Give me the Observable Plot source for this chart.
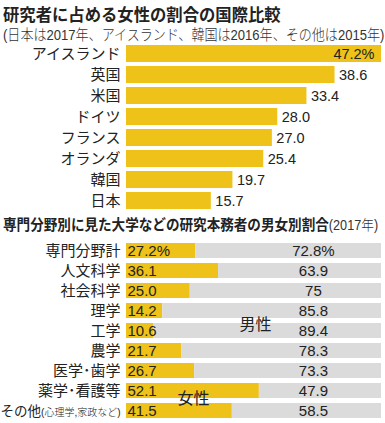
<!DOCTYPE html>
<html lang="ja"><head><meta charset="utf-8">
<script src="https://cdn.jsdelivr.net/npm/d3@7"></script>
<script src="https://cdn.jsdelivr.net/npm/@observablehq/plot@0.6"></script>
<style>
body{margin:0;background:#fff;font-family:"Liberation Sans","Noto Sans CJK JP",sans-serif;color:#222;}
#root{width:385px;height:423px;position:relative;overflow:hidden;background:#fff}
.t{position:absolute;white-space:nowrap;transform-origin:0 0;line-height:1}
#c1,#c2{position:absolute;left:0}
svg text{font-family:"Liberation Sans","Noto Sans CJK JP",sans-serif}
</style></head><body><div id="root">
<div class="t" style="left:3px;top:7px;font-size:16.5px;font-weight:bold;transform:scaleX(0.99)">研究者に占める女性の割合の国際比較</div>
<div class="t" style="left:3px;top:28px;font-size:14.5px;font-weight:300;color:#333;transform:scaleX(0.9)">(日本は2017年、アイスランド、韓国は2016年、その他は2015年)</div>
<div id="c1" style="top:43px"></div>
<div class="t" style="left:3px;top:217px;font-size:15px;transform:scaleX(0.905)"><span style="font-weight:bold">専門分野別に見た大学などの研究本務者の男女別割合</span><span style="font-size:14px;font-weight:300;color:#333">(2017年)</span></div>
<div id="c2" style="top:239px"></div>
</div>
<script>
// Chart 1: share of women among researchers, by country
const countries = ["アイスランド", "英国", "米国", "ドイツ", "フランス", "オランダ", "韓国", "日本"];
const countryValues = [47.2, 38.6, 33.4, 28.0, 27.0, 25.4, 19.7, 15.7];
const countryLabels = ["47.2%", "38.6", "33.4", "28.0", "27.0", "25.4", "19.7", "15.7"];

// Chart 2: researchers by field, female / male share (2017)
const fields = ["専門分野計", "人文科学", "社会科学", "理学", "工学", "農学", "医学･歯学", "薬学･看護等", "その他(心理学,家政など)"];
const femaleShare = [27.2, 36.1, 25.0, 14.2, 10.6, 21.7, 26.7, 52.1, 41.5];
const maleShare = [72.8, 63.9, 75, 85.8, 89.4, 78.3, 73.3, 47.9, 58.5];
const femaleLabels = ["27.2%", "36.1", "25.0", "14.2", "10.6", "21.7", "26.7", "52.1", "41.5"];
const maleLabels = ["72.8%", "63.9", "75", "85.8", "89.4", "78.3", "73.3", "47.9", "58.5"];
const sexes = ["女性", "男性"];

const YELLOW = "#eec218";
const GRAY = "#dbdbdb";
const INK = "#222";
const FONT = "'Liberation Sans', 'Noto Sans CJK JP', sans-serif";

const data1 = countries.map((name, i) => ({name, value: countryValues[i], label: countryLabels[i], inside: i === 0}));

const chart1 = Plot.plot({
  width: 385, height: 168,
  marginLeft: 126, marginRight: 4, marginTop: 0, marginBottom: 0,
  style: {fontSize: "15px", fontFamily: FONT, color: INK, background: "transparent"},
  x: {domain: [0, 47.2], axis: null},
  y: {domain: countries, paddingInner: 0.2, paddingOuter: 0.1, label: null, tickSize: 0, tickPadding: 6},
  marks: [
    Plot.barX(data1, {x: "value", y: "name", fill: YELLOW}),
    Plot.text(data1.filter(d => d.inside), {x: "value", y: "name", text: "label", textAnchor: "end", dx: -7, fontSize: 14.5, fill: INK}),
    Plot.text(data1.filter(d => !d.inside), {x: "value", y: "name", text: "label", textAnchor: "start", dx: 4, fontSize: 14.5, fill: INK})
  ]
});
document.getElementById("c1").append(chart1);

const rows = fields.flatMap((field, i) => [
  {field, sex: sexes[0], value: femaleShare[i]},
  {field, sex: sexes[1], value: maleShare[i]}
]);
const data2 = fields.map((field, i) => ({field, fl: femaleLabels[i], ml: maleLabels[i]}));
const MALE_LABEL_X = 73.3;

const chart2 = Plot.plot({
  width: 385, height: 184,
  marginLeft: 126, marginRight: 4, marginTop: 0, marginBottom: 0,
  style: {fontSize: "15px", fontFamily: FONT, color: INK, background: "transparent"},
  x: {domain: [0, 100], axis: null},
  y: {domain: fields, paddingInner: 0.234, paddingOuter: 0.042, label: null, tickSize: 0, tickPadding: 6},
  color: {domain: sexes, range: [YELLOW, GRAY]},
  marks: [
    Plot.barX(rows, {x: "value", y: "field", fill: "sex"}),
    Plot.text(data2, {frameAnchor: "left", y: "field", text: "fl", textAnchor: "start", dx: 1, fontSize: 15, fill: INK}),
    Plot.text(data2, {x: () => MALE_LABEL_X, y: "field", text: "ml", textAnchor: "middle", fontSize: 15, fill: INK}),
    Plot.text([{t: "男性", x: 50.6, y: fields[4]}], {x: "x", y: "y", text: "t", dy: -6.5, fontSize: 16, fill: INK}),
    Plot.text([{t: "女性", x: 26.3, y: fields[8]}], {x: "x", y: "y", text: "t", dy: -12, fontSize: 16, fill: INK})
  ]
});
document.getElementById("c2").append(chart2);

// Mixed-size label for the last category
d3.select(chart2).selectAll("text").each(function() {
  if (this.textContent === fields[8] && this.children.length <= 1) {
    const el = d3.select(this);
    el.text(null);
    el.append("tspan").text("その他").attr("font-size", 13.5);
    el.append("tspan").text("(心理学,家政など)").attr("font-size", 10).attr("font-weight", 300);
  }
});
</script>
</body></html>
